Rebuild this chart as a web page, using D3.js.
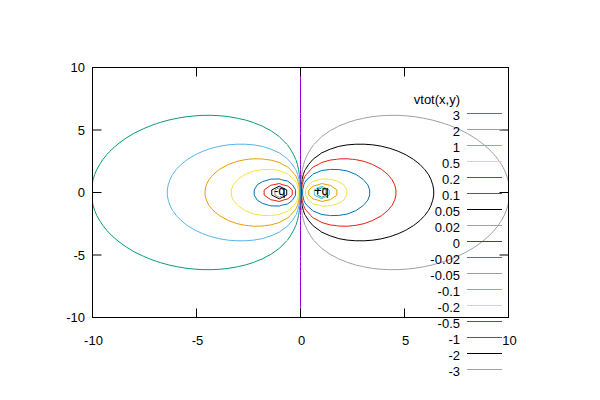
<!DOCTYPE html>
<html><head><meta charset="utf-8">
<script src="https://cdn.jsdelivr.net/npm/d3@7"></script>
<style>
body{margin:0;background:#fff}
text{font-family:"Liberation Sans",Arial,sans-serif;font-size:13px;fill:#000}
</style>
</head><body>
<svg id="chart" width="600" height="400"></svg>
<script>
// ---- data ----
const chargeX = [-1, 1];
const chargeY = [0, 0];
const chargeQ = [-1, 1];
const chargeLabels = ["-q", "+q"];
const levels = [3, 2, 1, 0.5, 0.2, 0.1, 0.05, 0.02, 0, -0.02, -0.05, -0.1, -0.2, -0.5, -1, -2, -3];
const levelLabels = ["3", "2", "1", "0.5", "0.2", "0.1", "0.05", "0.02", "0", "-0.02", "-0.05", "-0.1", "-0.2", "-0.5", "-1", "-2", "-3"];
const xTicks = [-10, -5, 0, 5, 10];
const yTicks = [-10, -5, 0, 5, 10];
const xDomain = [-10, 10];
const yDomain = [-10, 10];
const isoSamples = 50;
const keyTitle = "vtot(x,y)";

// ---- styles ----
const palette = ["#9400d3", "#009e73", "#56b4e9", "#e69f00", "#f0e442", "#0072b2", "#e51e10", "#000000", "#a0a0a0"];
const colorOf = i => palette[(i + 1) % palette.length];

const svg = d3.select("#chart");
const x = d3.scaleLinear().domain(xDomain).range([92.5, 508.5]);
const y = d3.scaleLinear().domain(yDomain).range([317.5, 67.5]);

// potential grid
function vtot(px, py) {
  let v = 0;
  for (let k = 0; k < chargeQ.length; k++) {
    const dx = px - chargeX[k], dy = py - chargeY[k];
    v += chargeQ[k] / Math.sqrt(dx * dx + dy * dy);
  }
  return v;
}
const n = isoSamples;
const sx = (xDomain[1] - xDomain[0]) / (n - 1);
const sy = (yDomain[1] - yDomain[0]) / (n - 1);
const values = new Array(n * n);
for (let j = 0; j < n; j++) {
  for (let i = 0; i < n; i++) {
    values[j * n + i] = vtot(xDomain[0] + i * sx, yDomain[0] + j * sy);
  }
}

svg.append("defs").append("clipPath").attr("id", "clip")
  .append("rect").attr("x", x(xDomain[0])).attr("y", y(yDomain[1]))
  .attr("width", x(xDomain[1]) - x(xDomain[0])).attr("height", y(yDomain[0]) - y(yDomain[1]));

const gen = d3.contours().size([n, n]);
const line = d3.line()
  .x(p => x(xDomain[0] + (p[0] - 0.5) * sx))
  .y(p => y(yDomain[0] + (p[1] - 0.5) * sy));

const gc = svg.append("g").attr("clip-path", "url(#clip)");
levels.forEach((lv, i) => {
  const mp = gen.contour(values, lv);
  const d = mp.coordinates.map(poly => poly.map(ring => line(ring)).join("")).join("");
  gc.append("path").attr("d", d).attr("fill", "none")
    .attr("stroke", colorOf(i)).attr("stroke-width", 1);
});

// border
svg.append("rect").attr("x", x(xDomain[0])).attr("y", y(yDomain[1]))
  .attr("width", x(xDomain[1]) - x(xDomain[0])).attr("height", y(yDomain[0]) - y(yDomain[1]))
  .attr("fill", "none").attr("stroke", "#000").attr("stroke-width", 1);

// ticks (inward, mirrored)
const tl = 9;
const gt = svg.append("g").attr("stroke", "#000").attr("stroke-width", 1);
yTicks.forEach(t => {
  gt.append("line").attr("x1", x.range()[0]).attr("x2", x.range()[0] + tl).attr("y1", y(t)).attr("y2", y(t));
  gt.append("line").attr("x1", x.range()[1]).attr("x2", x.range()[1] - tl).attr("y1", y(t)).attr("y2", y(t));
});
xTicks.forEach(t => {
  gt.append("line").attr("x1", x(t)).attr("x2", x(t)).attr("y1", y.range()[0]).attr("y2", y.range()[0] - tl);
  gt.append("line").attr("x1", x(t)).attr("x2", x(t)).attr("y1", y.range()[1]).attr("y2", y.range()[1] + tl);
});

// tick labels
yTicks.forEach(t => {
  svg.append("text").attr("x", 85).attr("y", y(t)).attr("dy", "0.35em")
    .attr("text-anchor", "end").text(t);
});
xTicks.forEach(t => {
  svg.append("text").attr("x", x(t) + 1).attr("y", 344.5)
    .attr("text-anchor", "middle").text(t);
});

// charge labels
chargeX.forEach((cx, k) => {
  svg.append("text").attr("x", x(cx)).attr("y", y(chargeY[k])).attr("dy", "0.17em")
    .attr("text-anchor", "middle").text(chargeLabels[k]);
});

// key
const keyTextX = 460, keyLineX1 = 467, keyLineX2 = 502, keyY0 = 113.5, keyStep = 16;
svg.append("text").attr("x", keyTextX).attr("y", keyY0 - keyStep + 6)
  .attr("text-anchor", "end").text(keyTitle);
levels.forEach((lv, i) => {
  const ly = keyY0 + i * keyStep;
  svg.append("text").attr("x", keyTextX).attr("y", ly + 6)
    .attr("text-anchor", "end").text(levelLabels[i]);
  svg.append("line").attr("x1", keyLineX1).attr("x2", keyLineX2).attr("y1", ly).attr("y2", ly)
    .attr("stroke", colorOf(i)).attr("stroke-width", 1);
});
</script>
</body></html>
